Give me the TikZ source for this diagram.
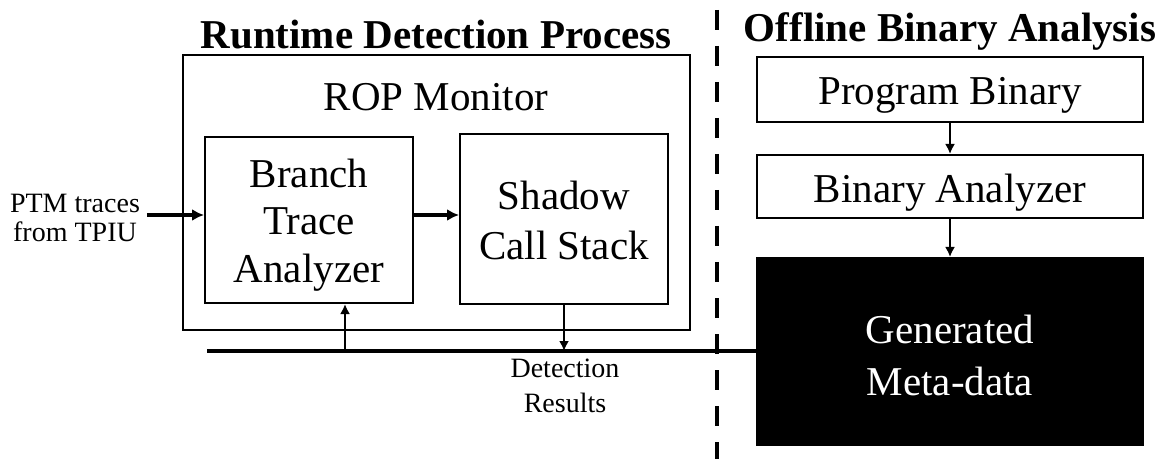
\documentclass[tikz,border=0pt]{standalone}
\usepackage{fontspec}
\setmainfont{Liberation Serif}
\usetikzlibrary{arrows.meta,calc}
\begin{document}
\begin{tikzpicture}[x=0.5pt,y=-0.5pt,
  box/.style={draw, line width=1pt, inner sep=0pt},
  txt/.style={align=center, inner sep=0pt},
  small/.style={font=\fontsize{14}{14.5}\selectfont, align=center},
  heading/.style={font=\fontsize{20.5}{24}\selectfont\bfseries},
  harr/.style={line width=1.8pt, -{Latex[length=6pt,width=6pt]}},
  varr/.style={line width=1.1pt, -{Latex[length=5pt,width=5pt]}},
  bus/.style={line width=1.9pt}]
  \useasboundingbox (0,0) rectangle (1159,459);
  \fill[white] (0,0) rectangle (1159,459);

  % section headings
  \node[heading] (hrt) at (436,35) {Runtime Detection Process};
  \node[heading] (hoff) at (950,31) {Offline Binary Analysis};

  % divider between online and offline parts
  \coordinate (divtop) at (717,10);
  \coordinate (divbot) at (717,459);
  \draw[line width=2pt, dash pattern=on 10pt off 8pt] (divtop) -- (divbot);

  % runtime monitor
  \node[box, minimum width=253.5pt, minimum height=137.5pt] (rop) at (436.5,192.5) {};
  \node[txt, font=\fontsize{20.5}{24}\selectfont] (roplbl) at (436,97) {ROP Monitor};
  \node[box, minimum width=104pt, minimum height=83pt] (bta) at (309,220) {};
  \node[txt, font=\fontsize{20.5}{23.75}\selectfont] (btat) at (309,225) {Branch\\Trace\\Analyzer};
  \node[box, minimum width=104pt, minimum height=84.5pt] (scs) at (564,219) {};
  \node[txt, font=\fontsize{20.5}{25}\selectfont] (scst) at (564,220) {Shadow\\Call Stack};

  \node[small] (ptm) at (75,218) {PTM traces\\from TPIU};
  \draw[harr] (ptm.east |- 0,215) -- (bta.west |- 0,215);
  \draw[harr] (bta.east |- 0,215) -- (scs.west |- 0,215);

  % result / meta-data bus
  \coordinate (busL) at (207,351);
  \coordinate (upfoot) at (345,351);
  \draw[bus] (busL) -- (busL -| 757,0);
  \draw[varr] (upfoot) -- (upfoot |- bta.south);
  \draw[varr] (scs.south) -- (scs.south |- busL);
  \node[small, font=\fontsize{14}{17.5}\selectfont] (det) at (565,386) {Detection\\Results};

  % offline analysis chain
  \node[box, minimum width=193pt, minimum height=32.5pt] (pb) at (950,89.5) {};
  \node[txt, font=\fontsize{20.5}{24}\selectfont] (pbt) at (950,95.5) {Program Binary};
  \node[box, minimum width=193pt, minimum height=31.5pt] (ba) at (950,186.5) {};
  \node[txt, font=\fontsize{20.5}{24}\selectfont] (bat) at (950,192.5) {Binary Analyzer};
  \node[box, fill=black, minimum width=193pt, minimum height=93.5pt] (meta) at (950,351.5) {};
  \node[txt, text=white, font=\fontsize{20.5}{26}\selectfont] (metat) at (950,355) {Generated\\Meta-data};
  \draw[varr] (pb.south) -- (ba.north);
  \draw[varr] (ba.south) -- (meta.north);
  \draw[bus] (busL -| 717,0) -- (meta.west |- busL);
\end{tikzpicture}
\end{document}
